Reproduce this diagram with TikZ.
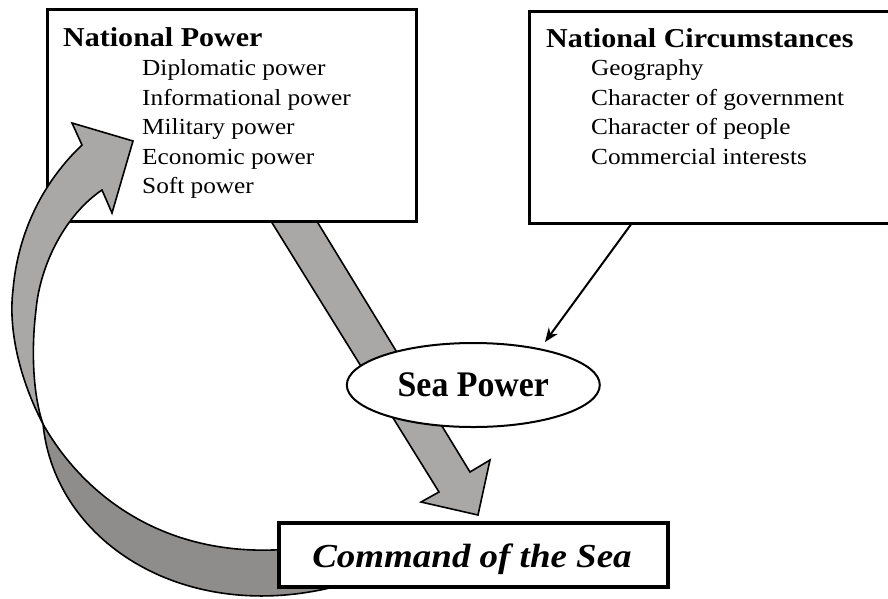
\documentclass[tikz,border=0pt]{standalone}
\usepackage{fontspec}
\setmainfont{Liberation Serif}[FakeStretch=1.1]
\newfontfamily\seafont{Liberation Serif}[FakeStretch=0.94]
\usetikzlibrary{arrows.meta,shapes.geometric}
\definecolor{arrowgray}{RGB}{170,167,167}
\definecolor{backgray}{RGB}{143,140,140}
\tikzset{
  boxnode/.style={draw, line width=3pt, fill=white, rectangle, inner sep=0pt},
  itemtxt/.style={anchor=base west, inner sep=0pt, font=\fontsize{23}{27}\selectfont},
  titletxt/.style={anchor=base west, inner sep=0pt, font=\fontsize{27.3}{32}\selectfont\bfseries},
  blockarrow/.style={draw, line width=1.6pt, fill=arrowgray, line join=miter},
  backarrow/.style={draw, line width=1.6pt, fill=backgray, line join=round},
  thinarrow/.style={line width=2pt, -{Stealth[length=14pt,width=11pt]}}
}
\begin{document}
\begin{tikzpicture}[x=1pt,y=-1pt]
\useasboundingbox (0,0) rectangle (888,598);
\clip (0,0) rectangle (888,598);
% straight block arrow (behind the boxes)
\draw[blockarrow] (261,205) -- (439,492) -- (421,502) -- (478,515) -- (490,460) -- (470,472) -- (307,205) -- cycle;
% National Power box
\node[boxnode, minimum width=369pt, minimum height=212pt] (np) at (231.5,115.5) {};
\node[titletxt] (nptitle) at (63,46) {National Power};
\node[itemtxt] (np1) at (142,75.5) {Diplomatic power};
\node[itemtxt] (np2) at (142,105) {Informational power};
\node[itemtxt] (np3) at (142,134.5) {Military power};
\node[itemtxt] (np4) at (142,164) {Economic power};
\node[itemtxt] (np5) at (142,193.5) {Soft power};
% National Circumstances box
\node[boxnode, minimum width=363pt, minimum height=212pt] (nc) at (710.5,117) {};
\node[titletxt] (nctitle) at (546,47) {National Circumstances};
\node[itemtxt] (nc1) at (591,75.5) {Geography};
\node[itemtxt] (nc2) at (591,105) {Character of government};
\node[itemtxt] (nc3) at (591,134.5) {Character of people};
\node[itemtxt] (nc4) at (591,164) {Commercial interests};
% Sea Power ellipse
\node[draw, ellipse, line width=2pt, fill=white, minimum width=253pt, minimum height=84pt, inner sep=0pt,
      font=\seafont\fontsize{36}{40}\selectfont\bfseries] (sp) at (473.3,385) {Sea Power};
% thin arrow
\coordinate (ncfoot) at (632,223);
\coordinate (sptop) at (545,342);
\draw[thinarrow] (ncfoot) -- (sptop);
% curved arrow: back part
\draw[backarrow] (43,424) .. controls (55,545) and (190,628) .. (345,584)
   -- (300,548) -- (290,549) .. controls (160,560) and (80,490) .. (43,424) -- cycle;
% curved arrow: front part with head
\draw[blockarrow] (43,424) .. controls (20,380) and (8,330) .. (13,290)
   .. controls (18,230) and (45,180) .. (82,145)
   -- (72,123) -- (133,141) -- (112,213) -- (102,190)
   .. controls (65,215) and (40,265) .. (36,310)
   .. controls (31,350) and (33,395) .. (43,424) -- cycle;
% Command of the Sea box
\node[boxnode, line width=3.3pt, minimum width=389pt, minimum height=64pt] (cmd) at (473.5,555) {};
\node[anchor=base, inner sep=0pt, font=\fontsize{33.6}{40}\selectfont\bfseries\itshape] (cmdtxt) at (472,567) {Command of the Sea};
\end{tikzpicture}
\end{document}
